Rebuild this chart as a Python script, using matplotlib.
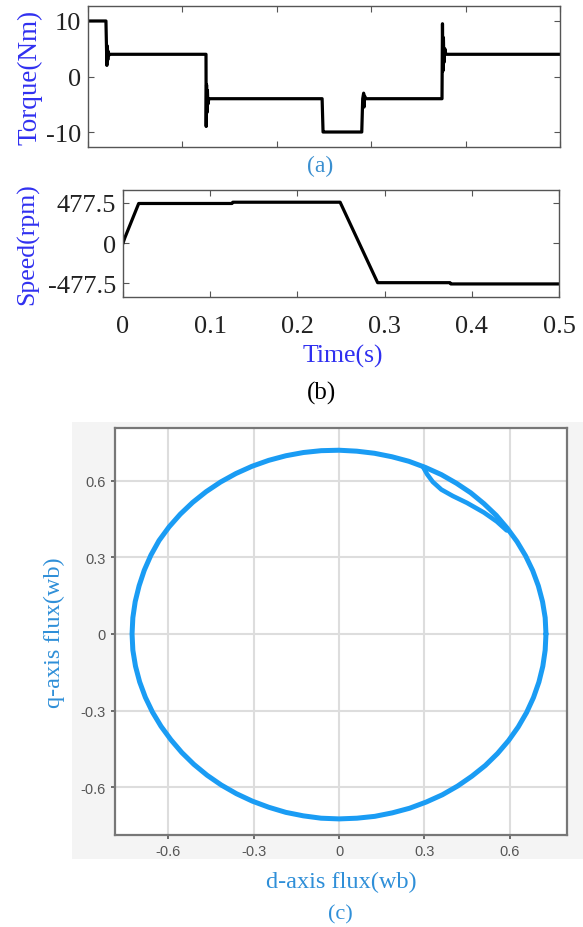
import numpy as np
import matplotlib.pyplot as plt
from matplotlib.patches import Rectangle

# ---- data ----
# (a) electromagnetic torque, Nm
torque_t = [0.0, 0.019, 0.0195, 0.020, 0.0205, 0.021, 0.0215, 0.022, 0.023,
            0.125, 0.1252, 0.1256, 0.126, 0.1265, 0.127, 0.128,
            0.248, 0.249, 0.250,
            0.290, 0.291, 0.292, 0.2925, 0.293, 0.294,
            0.375, 0.3755, 0.376, 0.3765, 0.377, 0.378, 0.379, 0.5]
torque_v = [10.0, 10.0, 6.0, 2.0, 5.5, 3.0, 4.5, 3.8, 4.0,
            4.0, -9.0, -1.5, -6.5, -2.5, -5.0, -4.0,
            -4.0, -10.0, -10.0,
            -10.0, -4.0, -3.0, -5.5, -3.5, -4.0,
            -4.0, 9.5, 1.0, 7.0, 2.5, 5.0, 4.0, 4.0]

# (b) rotor speed, rpm
speed_t = [0.0, 0.002, 0.018, 0.125, 0.126, 0.249, 0.292, 0.375, 0.376, 0.5]
speed_v = [0.0, 60.0, 470.0, 470.0, 485.0, 485.0, -470.0, -470.0, -485.0, -485.0]

# (c) stator flux trajectory: magnitude (wb) read every 5 degrees
flux_angle = list(range(0, 365, 5))
flux_mag = [0.728, 0.728, 0.727, 0.726, 0.725, 0.724, 0.723, 0.722, 0.722, 0.721,
            0.721, 0.720, 0.720, 0.719, 0.719, 0.718, 0.718, 0.718, 0.719,
            0.720, 0.721, 0.722, 0.723, 0.724, 0.725, 0.726, 0.727, 0.728,
            0.729, 0.730, 0.731, 0.730, 0.729, 0.728, 0.728, 0.728, 0.728,
            0.728, 0.727, 0.726, 0.725, 0.724, 0.723, 0.722, 0.722, 0.722,
            0.722, 0.722, 0.722, 0.722, 0.722, 0.723, 0.723, 0.724, 0.724,
            0.724, 0.725, 0.725, 0.726, 0.726, 0.727, 0.727, 0.727, 0.728,
            0.728, 0.728, 0.728, 0.728, 0.728, 0.728, 0.728, 0.728, 0.728]
# transient chord inside the trajectory (d, q)
chord_d = [0.295, 0.31, 0.33, 0.36, 0.40, 0.45, 0.51, 0.555, 0.59]
chord_q = [0.655, 0.625, 0.595, 0.565, 0.54, 0.513, 0.475, 0.44, 0.405]

W, H = 583, 928
fig = plt.figure(figsize=(W / 100, H / 100), dpi=100)


def box(l, t, r, b):
    return [l / W, 1 - b / H, (r - l) / W, (b - t) / H]


serif = ['Liberation Serif', 'DejaVu Serif']
sans = ['Liberation Sans', 'DejaVu Sans']

# light gray backdrop behind panel (c)
fig.patches.append(Rectangle((72 / W, 1 - 860 / H), (W - 72) / W, (860 - 423) / H,
                             transform=fig.transFigure, facecolor='#f4f4f4',
                             edgecolor='none', zorder=-5))

# ---- (a) torque ----
ax1 = fig.add_axes(box(88, 7, 560, 148))
ax1.plot(torque_t, torque_v, color='black', lw=2.3)
ax1.set_xlim(0, 0.5)
ax1.set_ylim(-12.7, 12.7)
ax1.set_yticks([-10, 0, 10])
ax1.set_yticklabels(['-10', '0', '10'], family=serif, fontsize=19, color='#222222')
ax1.set_xticks([0, 0.1, 0.2, 0.3, 0.4, 0.5])
ax1.set_xticklabels([])
ax1.tick_params(direction='in', top=True, right=True, length=4, color='#555555', pad=5)
for s in ax1.spines.values():
    s.set_color('#555555')
    s.set_linewidth(1.0)
ax1.set_ylabel('Torque(Nm)', family=serif, fontsize=19.5, color='#3030f0')
ax1.yaxis.set_label_coords(-0.097, 0.5)
fig.text(320 / W, 1 - 166 / H, '(a)', family=serif, fontsize=17, color='#3a8fd0',
         ha='center', va='center')

# ---- (b) speed ----
ax2 = fig.add_axes(box(123, 191, 559, 298))
ax2.plot(speed_t, speed_v, color='black', lw=2.3)
ax2.set_xlim(0, 0.5)
ax2.set_ylim(-640, 630)
ax2.set_yticks([-477.5, 0, 477.5])
ax2.set_yticklabels(['-477.5', '0', '477.5'], family=serif, fontsize=19, color='#222222')
ax2.set_xticks([0, 0.1, 0.2, 0.3, 0.4, 0.5])
ax2.set_xticklabels(['0', '0.1', '0.2', '0.3', '0.4', '0.5'], family=serif,
                    fontsize=19, color='#222222')
ax2.tick_params(direction='in', top=True, right=True, length=4, color='#555555', pad=5)
ax2.tick_params(axis='x', pad=13)
for s in ax2.spines.values():
    s.set_color('#555555')
    s.set_linewidth(1.0)
ax2.set_ylabel('Speed(rpm)', family=serif, fontsize=18.5, color='#3030f0')
ax2.yaxis.set_label_coords(-0.192, 0.5)
ax2.set_xlabel('Time(s)', family=serif, fontsize=18.5, color='#3030f0')
ax2.xaxis.set_label_coords(0.505, -0.44)
fig.text(322 / W, 1 - 393 / H, '(b)', family=serif, fontsize=18, color='black',
         ha='center', va='center')

# ---- (c) flux trajectory ----
ang = np.deg2rad(flux_angle)
flux_d = np.array(flux_mag) * np.cos(ang)
flux_q = np.array(flux_mag) * np.sin(ang)

ax3 = fig.add_axes(box(115, 429, 567, 836))
ax3.set_facecolor('white')
ax3.plot(flux_d, flux_q, color='#1a9cf4', lw=3.6, solid_joinstyle='round',
         solid_capstyle='round')
ax3.plot(chord_d, chord_q, color='#1a9cf4', lw=3.3, solid_capstyle='round',
         solid_joinstyle='round')
ax3.set_xlim(-0.788, 0.802)
ax3.set_ylim(-0.787, 0.806)
ticks = [-0.6, -0.3, 0, 0.3, 0.6]
labels = ['-0.6', '-0.3', '0', '0.3', '0.6']
ax3.set_xticks(ticks)
ax3.set_xticklabels(labels, family=sans, fontsize=10.5, color='#555555')
ax3.set_yticks(ticks)
ax3.set_yticklabels(labels, family=sans, fontsize=10.5, color='#555555')
ax3.grid(color='#dddddd', lw=1.5)
ax3.set_axisbelow(True)
ax3.tick_params(direction='out', length=3, color='#555555', width=1.2)
for s in ax3.spines.values():
    s.set_color('#777777')
    s.set_linewidth(1.6)
ax3.set_xlabel('d-axis flux(wb)', family=serif, fontsize=17.5, color='#2f8fd8')
ax3.xaxis.set_label_coords(0.5, -0.088)
ax3.set_ylabel('q-axis flux(wb)', family=serif, fontsize=17.5, color='#2f8fd8')
ax3.yaxis.set_label_coords(-0.11, 0.5)
fig.text(340 / W, 1 - 915 / H, '(c)', family=serif, fontsize=16, color='#2f8fd8',
         ha='center', va='center')

fig.savefig('out.png', dpi=100)
